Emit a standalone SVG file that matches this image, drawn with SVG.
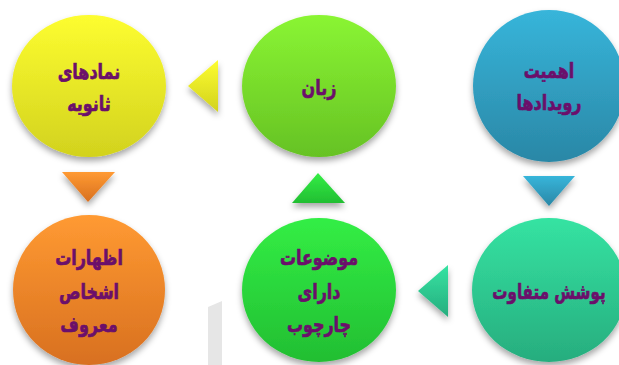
<svg xmlns="http://www.w3.org/2000/svg" width="619" height="365" viewBox="0 0 619 365">
<defs>
<linearGradient id="gY" x1="0" y1="0" x2="0" y2="1"><stop offset="0" stop-color="#fdfd30"/><stop offset="1" stop-color="#d2d21e"/></linearGradient>
<linearGradient id="gL" x1="0" y1="0" x2="0" y2="1"><stop offset="0" stop-color="#8af533"/><stop offset="1" stop-color="#66c224"/></linearGradient>
<linearGradient id="gB" x1="0" y1="0" x2="0" y2="1"><stop offset="0" stop-color="#37b5da"/><stop offset="1" stop-color="#2a87a6"/></linearGradient>
<linearGradient id="gO" x1="0" y1="0" x2="0" y2="1"><stop offset="0" stop-color="#ff9a32"/><stop offset="1" stop-color="#d87020"/></linearGradient>
<linearGradient id="gG" x1="0" y1="0" x2="0" y2="1"><stop offset="0" stop-color="#33ee45"/><stop offset="1" stop-color="#22be32"/></linearGradient>
<linearGradient id="gT" x1="0" y1="0" x2="0" y2="1"><stop offset="0" stop-color="#35e3a2"/><stop offset="1" stop-color="#27ad7e"/></linearGradient>
<filter id="sh" x="-20%" y="-20%" width="140%" height="150%"><feDropShadow dx="0" dy="4" stdDeviation="3" flood-color="#000" flood-opacity="0.35"/></filter>
</defs>
<style>
.lbl{font-family:"DejaVu Sans",sans-serif;font-weight:bold;font-size:21px;fill:#6b0f6b;stroke:#6b0f6b;stroke-width:0.7;text-anchor:middle}
</style>
<g id="watermark" opacity="0.6">
<polygon points="208,307 222,301 222,365 208,365" fill="#d6d6d6"/>
</g>
<g id="connectors" filter="url(#sh)">
<polygon points="188,86 218,60 218,112" fill="url(#gY)"/>
<polygon points="523,176 575,176 549,206" fill="url(#gB)"/>
<polygon points="418,291 448,265 448,317" fill="url(#gT)"/>
<polygon points="318,173 292,203 345,203" fill="url(#gG)"/>
<polygon points="62,172 115,172 88,202" fill="url(#gO)"/>
</g>
<g id="n1"><ellipse cx="89" cy="86" rx="77" ry="71" fill="url(#gY)" filter="url(#sh)"/>
<g transform="translate(89,0) scale(0.76,1)"><text class="lbl" x="0" y="79">نمادهای</text><text class="lbl" x="0" y="111">ثانویه</text></g></g>
<g id="n2"><ellipse cx="319" cy="86" rx="77" ry="71" fill="url(#gL)" filter="url(#sh)"/>
<g transform="translate(319,0) scale(0.76,1)"><text class="lbl" x="0" y="95">زبان</text></g></g>
<g id="n3"><ellipse cx="549" cy="86" rx="76" ry="76" fill="url(#gB)" filter="url(#sh)"/>
<g transform="translate(549,0) scale(0.76,1)"><text class="lbl" x="0" y="78">اهمیت</text><text class="lbl" x="0" y="110">رویدادها</text></g></g>
<g id="n4"><ellipse cx="89" cy="290" rx="76" ry="75" fill="url(#gO)" filter="url(#sh)"/>
<g transform="translate(89,0) scale(0.76,1)"><text class="lbl" x="0" y="265">اظهارات</text><text class="lbl" x="0" y="299">اشخاص</text><text class="lbl" x="0" y="332">معروف</text></g></g>
<g id="n5"><ellipse cx="319" cy="290" rx="77" ry="72" fill="url(#gG)" filter="url(#sh)"/>
<g transform="translate(319,0) scale(0.76,1)"><text class="lbl" x="0" y="265">موضوعات</text><text class="lbl" x="0" y="299">دارای</text><text class="lbl" x="0" y="332">چارچوب</text></g></g>
<g id="n6"><ellipse cx="549" cy="290" rx="77" ry="72" fill="url(#gT)" filter="url(#sh)"/>
<g transform="translate(549,0) scale(0.72,1)"><text class="lbl" x="0" y="299">پوشش متفاوت</text></g></g>
</svg>
